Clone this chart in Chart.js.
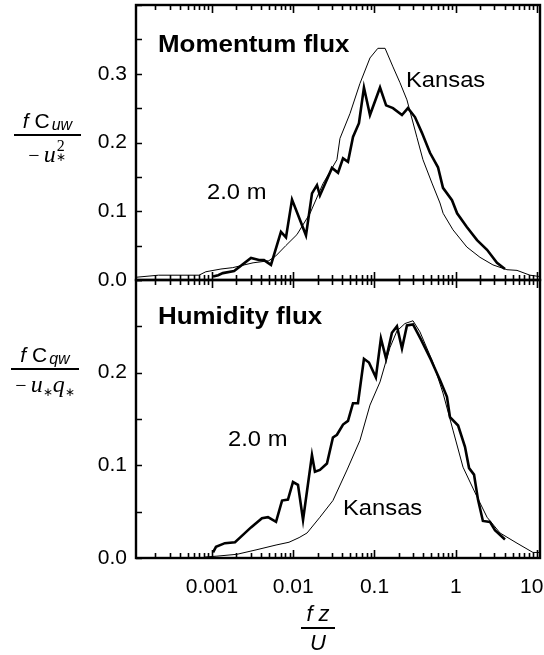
<!DOCTYPE html>
<html>
<head>
<meta charset="utf-8">
<script src="https://cdn.jsdelivr.net/npm/chart.js@4.4.1/dist/chart.umd.min.js"></script>
<style>
body { margin: 0; background: #fff; }
#wrap { position: relative; width: 544px; height: 655px; font-family: "Liberation Sans", Arial, sans-serif; color: #000; overflow: hidden; }
canvas { position: absolute; left: 0; }
.lbl { position: absolute; white-space: nowrap; line-height: 1; transform: scaleX(1.08); transform-origin: 0 50%; }
.ttl { font-size: 24px; font-weight: bold; }
.ann { font-size: 22px; }
.frac { position: absolute; text-align: center; line-height: 1; }
.num { font-size: 21px; white-space: nowrap; }
.num .sb { font-size: 16px; position: relative; top: 2px; margin-left: 2px; }
.bar { height: 2px; background: #000; margin: 3px 0 2px 0; }
.den { font-family: "Liberation Serif", "Times New Roman", serif; font-size: 24px; white-space: nowrap; }
.den .mn { font-size: 20px; margin-right: 4px; }
.den .ss { display: inline-block; position: relative; width: 11px; height: 24px; }
.den .ss .up { position: absolute; left: 1px; top: 0px; font-size: 16px; }
.den .ss .dn { position: absolute; left: 0; top: 13px; font-size: 12px; }
.den .sub { font-size: 12px; position: relative; top: 4px; }
</style>
</head>
<body>
<div id="wrap">
  <canvas id="top" width="544" height="300" style="top:0"></canvas>
  <canvas id="bot" width="544" height="380" style="top:275px"></canvas>

  <div class="lbl ttl" style="left:158px;top:32px">Momentum flux</div>
  <div class="lbl ann" style="left:406px;top:69px">Kansas</div>
  <div class="lbl ann" style="left:207px;top:181px">2.0 m</div>
  <div class="lbl ttl" style="left:158px;top:304px">Humidity flux</div>
  <div class="lbl ann" style="left:228px;top:428px">2.0 m</div>
  <div class="lbl ann" style="left:343px;top:497px">Kansas</div>

  <div class="frac" style="left:14px;top:110px;width:67px">
    <div class="num"><i>f</i> C<i class="sb">uw</i></div>
    <div class="bar"></div>
    <div class="den"><span class="mn">−</span><i>u</i><span class="ss"><span class="up">2</span><span class="dn">∗</span></span></div>
  </div>

  <div class="frac" style="left:11px;top:344px;width:68px">
    <div class="num"><i>f</i> C<i class="sb">qw</i></div>
    <div class="bar"></div>
    <div class="den"><span class="mn">−</span><i>u</i><span class="sub">∗</span><i>q</i><span class="sub">∗</span></div>
  </div>

  <div class="frac" style="left:301px;top:603px;width:34px;font-size:22px">
    <div style="white-space:nowrap"><i>f z</i></div>
    <div class="bar" style="margin:2px 0 3px 0"></div>
    <div><i>U</i></div>
  </div>
</div>

<script>
// x axis (f z / U)
var xMin = 1.16e-4;
var xMax = 10.9;
var xMajorValues = [0.001, 0.01, 0.1, 1, 10];
var xTickLabels = ['0.001', '0.01', '0.1', '1', '10'];
var topTickLabels = ['0.0', '0.1', '0.2', '0.3'];
var botTickLabels = ['0.0', '0.1', '0.2'];

// Momentum flux, Kansas curve
var momKansasX = [1.16e-4, 2.2e-4, 6.9e-4, 8.4e-4, 1.29e-3, 1.8e-3, 3.2e-3, 5.0e-3, 6.1e-3, 8.1e-3, 0.0111, 0.0161, 0.0232, 0.0345, 0.0376, 0.0499, 0.0663, 0.088, 0.110, 0.135, 0.169, 0.206, 0.251, 0.334, 0.395, 0.51, 0.64, 0.70, 0.925, 1.37, 1.99, 2.87, 4.27, 5.68, 8.2, 10.9];
var momKansasY = [0.004, 0.007, 0.007, 0.012, 0.016, 0.018, 0.025, 0.028, 0.035, 0.05, 0.066, 0.097, 0.14, 0.175, 0.206, 0.242, 0.286, 0.323, 0.337, 0.337, 0.31, 0.287, 0.262, 0.207, 0.175, 0.141, 0.112, 0.097, 0.073, 0.048, 0.033, 0.022, 0.015, 0.014, 0.007, 0.005];

// Momentum flux, 2.0 m curve
var mom2mX = [1.03e-3, 1.19e-3, 1.36e-3, 1.87e-3, 3.02e-3, 3.79e-3, 4.36e-3, 5.32e-3, 7.06e-3, 8.14e-3, 9.66e-3, 0.01435, 0.01702, 0.0196, 0.0213, 0.030, 0.0356, 0.041, 0.0472, 0.0544, 0.0644, 0.0742, 0.088, 0.117, 0.139, 0.169, 0.218, 0.258, 0.315, 0.384, 0.482, 0.605, 0.697, 0.90, 1.04, 1.37, 1.83, 2.43, 3.22, 4.04];
var mom2mY = [0.005, 0.007, 0.010, 0.013, 0.032, 0.029, 0.029, 0.022, 0.07, 0.062, 0.117, 0.065, 0.126, 0.138, 0.123, 0.163, 0.156, 0.177, 0.172, 0.208, 0.228, 0.28, 0.24, 0.28, 0.254, 0.25, 0.240, 0.25, 0.237, 0.214, 0.185, 0.164, 0.134, 0.116, 0.097, 0.077, 0.058, 0.044, 0.025, 0.016];

// Humidity flux, Kansas curve
var humKansasX = [8.0e-4, 1.15e-3, 2.03e-3, 3.58e-3, 6.14e-3, 8.87e-3, 0.0118, 0.0148, 0.0213, 0.0308, 0.0459, 0.0663, 0.088, 0.117, 0.155, 0.189, 0.237, 0.298, 0.363, 0.525, 0.697, 0.925, 1.23, 1.83, 2.43, 3.51, 5.68, 8.93, 10.9];
var humKansasY = [0.001, 0.002, 0.004, 0.009, 0.014, 0.017, 0.022, 0.027, 0.044, 0.062, 0.095, 0.127, 0.165, 0.19, 0.227, 0.245, 0.253, 0.256, 0.244, 0.211, 0.178, 0.138, 0.098, 0.066, 0.044, 0.027, 0.016, 0.006, 0.006];

// Humidity flux, 2.0 m curve
var hum2mX = [1.03e-3, 1.12e-3, 1.44e-3, 1.92e-3, 2.21e-3, 3.02e-3, 4.12e-3, 4.89e-3, 6.14e-3, 7.28e-3, 8.61e-3, 9.93e-3, 0.01144, 0.0132, 0.0170, 0.0185, 0.0213, 0.026, 0.0308, 0.0345, 0.041, 0.0472, 0.0544, 0.0626, 0.0742, 0.0855, 0.104, 0.120, 0.139, 0.164, 0.189, 0.218, 0.251, 0.298, 0.373, 0.495, 0.64, 0.78, 0.85, 1.07, 1.30, 1.46, 1.68, 1.88, 2.16, 2.64, 3.04, 4.04];
var hum2mY = [0.006, 0.012, 0.016, 0.017, 0.022, 0.033, 0.043, 0.044, 0.039, 0.062, 0.063, 0.082, 0.079, 0.041, 0.111, 0.093, 0.095, 0.102, 0.130, 0.133, 0.144, 0.148, 0.167, 0.167, 0.215, 0.211, 0.195, 0.237, 0.215, 0.243, 0.25, 0.226, 0.251, 0.252, 0.236, 0.214, 0.192, 0.174, 0.152, 0.143, 0.12, 0.097, 0.090, 0.063, 0.040, 0.039, 0.030, 0.020];

function points(xs, ys) {
    return xs.map(function (x, i) { return { x: x, y: ys[i] }; });
}

// inward tick marks and frame, placed by the chart's own scales
var frameTicks = {
    id: 'frameTicks',
    afterDatasetsDraw: function (chart) {
        var ctx = chart.ctx, a = chart.chartArea, sx = chart.scales.x, sy = chart.scales.y;
        ctx.save();
        ctx.strokeStyle = '#000';
        ctx.lineWidth = 1.6;
        ctx.beginPath();
        sx.ticks.forEach(function (t) {
            var px = Math.round(sx.getPixelForValue(t.value)) + 0.5;
            var len = t.decade ? 8 : 5;
            ctx.moveTo(px, a.bottom); ctx.lineTo(px, a.bottom - len);
            ctx.moveTo(px, a.top); ctx.lineTo(px, a.top + len);
        });
        sy.ticks.forEach(function (t) {
            var py = Math.round(sy.getPixelForValue(t.value)) + 0.5;
            ctx.moveTo(a.left, py); ctx.lineTo(a.left + 6, py);
        });
        ctx.stroke();
        ctx.lineWidth = 2.4;
        ctx.strokeRect(a.left, a.top, a.right - a.left, a.bottom - a.top);
        ctx.restore();
    }
};

function logTicks(scale) {
    var ticks = [];
    for (var e = -4; e <= 1; e++) {
        for (var m = 1; m <= 9; m++) {
            var v = parseFloat((m * Math.pow(10, e)).toPrecision(6));
            if (v >= xMin && v <= xMax) ticks.push({ value: v, decade: m === 1 });
        }
    }
    scale.ticks = ticks;
}

function xLabel(value) {
    var i = xMajorValues.findIndex(function (v) { return Math.abs(v - value) < v * 1e-6; });
    if (i < 0) return '';
    // last label sits at the window edge: nudge it left so it stays visible
    return i === xTickLabels.length - 1 ? xTickLabels[i] + '\u2002' : xTickLabels[i];
}

function yLabelFrom(list) {
    return function (value) {
        var s = value.toFixed(2);
        if (s.charAt(s.length - 1) !== '0') return '';
        s = value.toFixed(1);
        return list.indexOf(s) >= 0 ? s : '';
    };
}

function noPad(s) {
    s.paddingTop = 0; s.paddingBottom = 0; s.paddingLeft = 0; s.paddingRight = 0;
}

var tickFont = { family: '"Liberation Sans", Arial, sans-serif', size: 21 };

function makeChart(id, kx, ky, mx, my, yMax, yLabels, showX, xHeight) {
    return new Chart(document.getElementById(id), {
        type: 'line',
        data: {
            datasets: [
                { label: 'Kansas', data: points(kx, ky), borderColor: '#000', borderWidth: 1, pointRadius: 0, tension: 0 },
                { label: '2.0 m', data: points(mx, my), borderColor: '#000', borderWidth: 2.6, pointRadius: 0, tension: 0 }
            ]
        },
        options: {
            responsive: false,
            animation: false,
            events: [],
            layout: { padding: { top: 5, right: 4, left: 0, bottom: 0 } },
            plugins: { legend: { display: false }, tooltip: { enabled: false } },
            scales: {
                x: {
                    type: 'logarithmic', min: xMin, max: xMax,
                    afterBuildTicks: logTicks,
                    afterFit: function (s) { s.height = xHeight; noPad(s); },
                    grid: { drawOnChartArea: false, drawTicks: false },
                    border: { display: false },
                    ticks: { display: showX, autoSkip: false, maxRotation: 0, padding: 17, color: '#000', font: tickFont, callback: xLabel }
                },
                y: {
                    type: 'linear', min: 0, max: yMax,
                    afterFit: function (s) { s.width = 136; noPad(s); },
                    grid: { drawOnChartArea: false, drawTicks: false },
                    border: { display: false },
                    ticks: { stepSize: 0.05, padding: 9, color: '#000', font: tickFont, callback: yLabelFrom(yLabels) }
                }
            }
        },
        plugins: [frameTicks]
    });
}

makeChart('top', momKansasX, momKansasY, mom2mX, mom2mY, 0.4, topTickLabels, false, 20);
makeChart('bot', humKansasX, humKansasY, hum2mX, hum2mY, 0.3, botTickLabels, true, 97);
</script>
</body>
</html>
